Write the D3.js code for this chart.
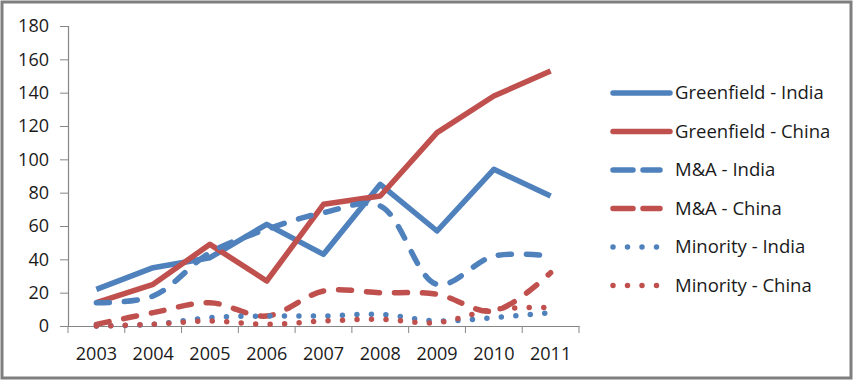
<!DOCTYPE html>
<html>
<head>
<meta charset="utf-8">
<script src="https://cdn.jsdelivr.net/npm/d3@7"></script>
<style>
    body { margin: 0; background: #fff; }
    svg { display: block; font-family: "Open Sans", "Liberation Sans", sans-serif; font-variant-ligatures: none; }
</style>
</head>
<body>
<svg width="855" height="381"></svg>
<script>
// Chart data
const years = ["2003", "2004", "2005", "2006", "2007", "2008", "2009", "2010", "2011"];
const greenfieldIndia = [22, 35, 41, 61, 43, 85, 57, 94, 78];
const greenfieldChina = [14, 25, 49, 27, 73, 78, 116, 138, 153];
const maIndia = [14, 18, 44, 58, 68, 72, 25, 42, 42];
const maChina = [1, 8, 14, 6, 21, 20, 19, 9, 32];
const minorityIndia = [0, 1, 5, 6, 6, 7, 3, 5, 8];
const minorityChina = [0, 1, 3, 1, 3, 4, 2, 10, 11];
const yTicks = [0, 20, 40, 60, 80, 100, 120, 140, 160, 180];

const BLUE = "#4f81bd", RED = "#c0504d";

// Series list, drawn in this order (last one on top)
const series = [
    {name: "Greenfield - India", values: greenfieldIndia, color: BLUE, style: "solid"},
    {name: "Greenfield - China", values: greenfieldChina, color: RED, style: "solid"},
    {name: "M&A - India", values: maIndia, color: BLUE, style: "dash"},
    {name: "M&A - China", values: maChina, color: RED, style: "dash"},
    {name: "Minority - India", values: minorityIndia, color: BLUE, style: "dot"},
    {name: "Minority - China", values: minorityChina, color: RED, style: "dot"}
];

const dashes = {solid: null, dash: "13,15", dot: "0,14.5"};

class LineChart {
    constructor(_d3) {
        this.d3 = _d3;
        this.svg = this.d3.select("svg");
        this.plot = {left: 68, right: 579, top: 26, bottom: 326};
        this.x = this.d3.scaleBand()
            .domain(years)
            .range([this.plot.left, this.plot.right]);
        this.y = this.d3.scaleLinear()
            .domain([0, 180])
            .range([this.plot.bottom, this.plot.top]);
    }
    render() {
        this.renderFrame();
        this.renderAxes();
        for (let s of series) {
            this.renderSeries(s);
        }
        this.renderLegend();
    }
    renderFrame() {
        // outer border of the chart
        this.svg.append("rect")
            .attr("x", 2).attr("y", 2)
            .attr("width", 849).attr("height", 376)
            .attr("fill", "none")
            .attr("stroke", "#7f7f7f")
            .attr("stroke-width", 3);
    }
    renderAxes() {
        const d3 = this.d3;

        let yAxis = this.svg.append("g")
            .attr("transform", `translate(${this.plot.left},0)`)
            .call(d3.axisLeft(this.y).tickValues(yTicks).tickSize(8).tickPadding(11));

        let xAxis = this.svg.append("g")
            .attr("transform", `translate(0,${this.plot.bottom})`)
            .call(d3.axisBottom(this.x).tickSize(0).tickPadding(21));

        // Excel puts the x ticks between categories
        let bounds = years.map(d => this.x(d)).concat([this.plot.right]);
        xAxis.selectAll(".sep")
            .data(bounds)
            .enter()
            .append("line")
            .attr("class", "sep")
            .attr("x1", d => d).attr("x2", d => d)
            .attr("y1", 0).attr("y2", 7)
            .attr("stroke", "#868686");

        for (let ax of [yAxis, xAxis]) {
            ax.select(".domain").attr("stroke", "#868686").attr("stroke-width", 1.2);
            ax.selectAll(".tick line").attr("stroke", "#868686");
            ax.selectAll("text")
                .attr("font-family", "'Open Sans', sans-serif")
                .attr("font-size", 18)
                .attr("fill", "#1a1a1a");
        }
    }
    renderSeries(s) {
        const d3 = this.d3;
        let bw = this.x.bandwidth();
        let line = d3.line()
            .x((d, i) => this.x(years[i]) + bw / 2)
            .y(d => this.y(d))
            .curve(s.style === "solid" ? d3.curveLinear : d3.curveCatmullRom.alpha(0.5));

        this.svg.append("path")
            .datum(s.values)
            .attr("class", "line")
            .attr("d", line)
            .attr("fill", "none")
            .attr("stroke", s.color)
            .attr("stroke-width", 5.5)
            .attr("stroke-linecap", s.style === "solid" ? "butt" : "round")
            .attr("stroke-linejoin", "round")
            .attr("stroke-dasharray", dashes[s.style]);
    }
    renderLegend() {
        let g = this.svg.append("g").attr("class", "legend");
        let rows = g.selectAll(".item")
            .data(series)
            .enter()
            .append("g")
            .attr("class", "item")
            .attr("transform", (d, i) => `translate(0,${93 + i * 38.5})`);

        rows.append("line")
            .attr("x1", 613)
            .attr("x2", d => d.style === "solid" ? 670 : 660)
            .attr("y1", 0).attr("y2", 0)
            .attr("stroke", d => d.color)
            .attr("stroke-width", 5.5)
            .attr("stroke-linecap", "round")
            .attr("stroke-dasharray", d => d.style === "dash" ? "20,10" : dashes[d.style]);

        rows.append("text")
            .attr("x", 675)
            .attr("y", 0)
            .attr("dy", "0.35em")
            .attr("font-size", 18.5)
            .attr("fill", "#1a1a1a")
            .text(d => d.name);
    }
}

new LineChart(d3).render();
</script>
</body>
</html>
